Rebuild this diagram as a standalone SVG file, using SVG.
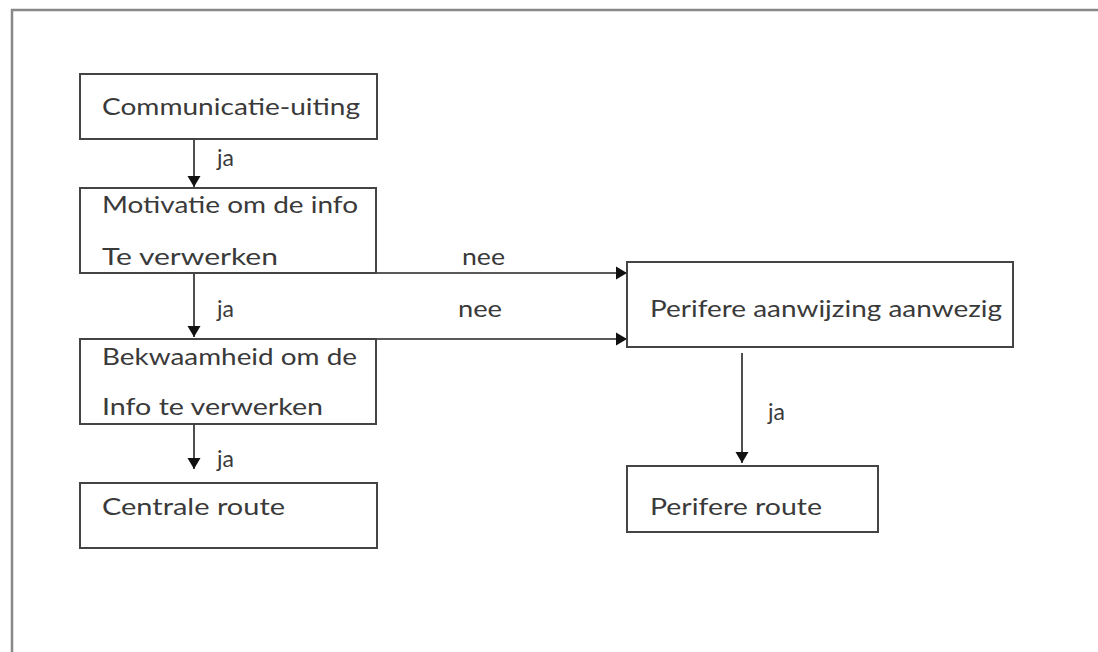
<svg xmlns="http://www.w3.org/2000/svg" width="1098" height="652" viewBox="0 0 1098 652">
<defs>
<marker id="ah" markerWidth="14" markerHeight="14" refX="11" refY="7" orient="auto" markerUnits="userSpaceOnUse">
<path d="M0,0.5 L11,7 L0,13.5 Z" fill="#111"/>
</marker>
<style>
.box{fill:#fff;stroke:#444;stroke-width:2}
.t{font-family:Lato,"Open Sans","Liberation Sans",sans-serif;font-size:23px;fill:#3a3a3a}
.c{stroke:#222;stroke-width:1.6;fill:none;marker-end:url(#ah)}
.frame{stroke:#888;stroke-width:2.5;fill:none}
</style>
</defs>
<rect width="1098" height="652" fill="#fff"/>
<path class="frame" d="M12,652 L12,10 L1098,10"/>
<g id="connectors">
<line class="c" x1="194" y1="139" x2="194" y2="187"/>
<line class="c" x1="194" y1="273" x2="194" y2="337"/>
<line class="c" x1="194" y1="424" x2="194" y2="469"/>
<line class="c" x1="376" y1="273" x2="627" y2="273"/>
<line class="c" x1="376" y1="339" x2="627" y2="339"/>
<line class="c" x1="742" y1="353" x2="742" y2="463"/>
<text class="t" x="217" y="166">ja</text>
<text class="t" x="217" y="317">ja</text>
<text class="t" x="217" y="467">ja</text>
<text class="t" x="462" y="265" textLength="43" lengthAdjust="spacingAndGlyphs">nee</text>
<text class="t" x="458" y="317" textLength="44" lengthAdjust="spacingAndGlyphs">nee</text>
<text class="t" x="768" y="420">ja</text>
</g>
<g id="n1">
<rect class="box" x="80" y="74" width="297" height="65"/>
<text class="t" x="102" y="115" textLength="258" lengthAdjust="spacingAndGlyphs">Communicatie-uiting</text>
</g>
<g id="n2">
<rect class="box" x="80" y="188" width="296" height="85"/>
<text class="t" x="102" y="213" textLength="256" lengthAdjust="spacingAndGlyphs">Motivatie om de info</text>
<text class="t" x="102" y="265" textLength="176" lengthAdjust="spacingAndGlyphs">Te verwerken</text>
</g>
<g id="n3">
<rect class="box" x="80" y="339" width="296" height="85"/>
<text class="t" x="102" y="365" textLength="255" lengthAdjust="spacingAndGlyphs">Bekwaamheid om de</text>
<text class="t" x="102" y="415" textLength="221" lengthAdjust="spacingAndGlyphs">Info te verwerken</text>
</g>
<g id="n4">
<rect class="box" x="80" y="483" width="297" height="65"/>
<text class="t" x="102" y="515" textLength="183" lengthAdjust="spacingAndGlyphs">Centrale route</text>
</g>
<g id="n5">
<rect class="box" x="627" y="262" width="386" height="85"/>
<text class="t" x="650" y="317" textLength="352" lengthAdjust="spacingAndGlyphs">Perifere aanwijzing aanwezig</text>
</g>
<g id="n6">
<rect class="box" x="627" y="466" width="251" height="66"/>
<text class="t" x="650" y="515" textLength="172" lengthAdjust="spacingAndGlyphs">Perifere route</text>
</g>
</svg>
